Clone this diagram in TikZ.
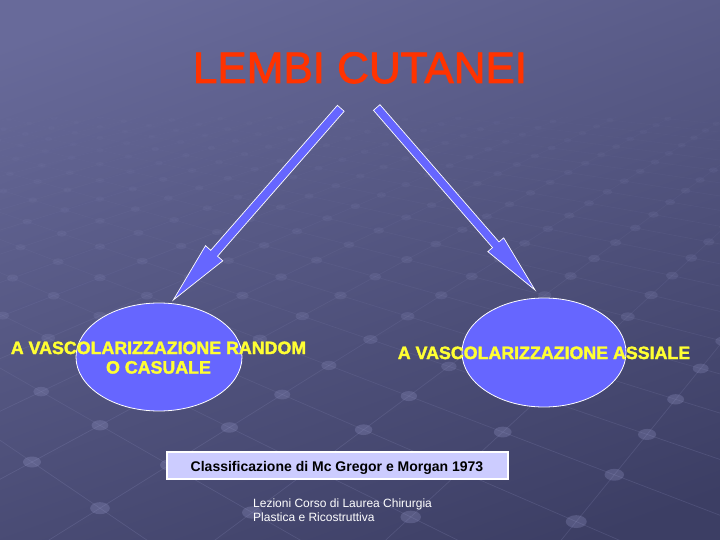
\documentclass[tikz,border=0pt]{standalone}
\usepackage{fontspec}
\setmainfont{Liberation Sans}
\usetikzlibrary{shapes.geometric,calc}
\definecolor{bgtop}{RGB}{104,106,154}
\definecolor{bgbot}{RGB}{60,62,100}
\definecolor{arrowblue}{RGB}{102,102,255}
\definecolor{titlered}{RGB}{255,51,0}
\definecolor{lblyellow}{RGB}{255,255,51}
\definecolor{boxfill}{RGB}{204,204,255}
\definecolor{gridcol}{RGB}{170,172,220}
\definecolor{dotcol}{RGB}{150,152,200}
\newcommand\heavytxt[2]{\special{pdf:literal direct 2 Tr #1 w}#2\special{pdf:literal direct 0 Tr}}
\begin{document}
\begin{tikzpicture}[x=1pt,y=-1pt,
  declare function={gd(\a,\b)=1-0.0875*\a+0.0688*\b;
     gx(\a,\b)=(59.24*\a+74.85*\b+32)/gd(\a,\b);
     gy(\a,\b)=(1.75*\a-7.43*\b+462)/gd(\a,\b);},
  blob/.style={ellipse, draw=white, line width=0.8pt, fill=arrowblue, inner sep=0pt},
  fatarrow/.style={draw=white, line width=0.7pt, fill=arrowblue, line join=miter},
  lbl/.style={text=lblyellow, font=\bfseries\fontsize{17.8}{19.5}\selectfont, align=center, inner sep=0pt},
  gline/.style={gridcol, line width=0.7pt},
]
\useasboundingbox (0,0) rectangle (720,540);
\shade[top color=bgtop, bottom color=bgbot, shading angle=20] (-40,-40) rectangle (760,580);

% perspective floor grid
\begin{scope}
\clip (0,118) rectangle (720,540);
\foreach \i in {-14,...,8}{
  \foreach \j in {-4,...,30}{
    \pgfmathsetmacro{\dA}{gd(\i,\j)}
    \pgfmathsetmacro{\dB}{\dA-0.0875}
    \ifdim \dA pt>0.45pt
      \pgfmathsetmacro{\op}{min(0.16,0.16/(\dA*\dA))}
      \draw[gline, opacity=\op] ({gx(\i,\j)},{gy(\i,\j)}) -- ({gx(\i,\j+1)},{gy(\i,\j+1)});
      \ifdim \dB pt>0.45pt
        \draw[gline, opacity=\op] ({gx(\i,\j)},{gy(\i,\j)}) -- ({gx(\i+1,\j)},{gy(\i+1,\j)});
      \fi
    \fi
  }
}
\foreach \i in {-14,...,8}{
  \foreach \j in {-4,...,30}{
    \pgfmathsetmacro{\dA}{gd(\i,\j)}
    \ifdim \dA pt>0.45pt
      \pgfmathsetmacro{\op}{min(0.28,0.32/(\dA*\dA))}
      \pgfmathsetmacro{\rx}{9/\dA}
      \pgfmathsetmacro{\ry}{5.5/\dA}
      \fill[dotcol, opacity=\op] ({gx(\i,\j)},{gy(\i,\j)}) ellipse [x radius=\rx pt, y radius=\ry pt];
    \fi
  }
}
\end{scope}

% ellipses
\node[blob, minimum width=166pt, minimum height=108pt] (elleft) at (159,357) {};
\node[blob, minimum width=164pt, minimum height=109pt] (elright) at (544,352.5) {};

% arrows
\coordinate (t1) at (340.8,108.3);
\coordinate (p1) at (173.3,300);
\coordinate (h1) at ($(t1)!192.5pt!(p1)$);
\draw[fatarrow] ($(t1)!4.5pt!90:(p1)$) -- ($(h1)!4.5pt!90:(p1)$) -- ($(h1)!11.5pt!90:(p1)$)
  -- (p1) -- ($(h1)!11.5pt!-90:(p1)$) -- ($(h1)!4.5pt!-90:(p1)$) -- ($(t1)!4.5pt!-90:(p1)$) -- cycle;
\coordinate (t2) at (376.7,107.5);
\coordinate (p2) at (535,290);
\coordinate (h2) at ($(t2)!181.7pt!(p2)$);
\draw[fatarrow] ($(t2)!4.3pt!90:(p2)$) -- ($(h2)!4.3pt!90:(p2)$) -- ($(h2)!10.5pt!90:(p2)$)
  -- (p2) -- ($(h2)!10.5pt!-90:(p2)$) -- ($(h2)!4.3pt!-90:(p2)$) -- ($(t2)!4.3pt!-90:(p2)$) -- cycle;

% texts
\node[font=\fontsize{44}{50}\selectfont, text=titlered, anchor=base, inner sep=0pt] (title) at (360,83) {\heavytxt{0.9}{LEMBI CUTANEI}};
\node[lbl, anchor=base] (lblleft) at (158.5,373.5) {\heavytxt{0.35}{A VASCOLARIZZAZIONE RANDOM}\\\heavytxt{0.35}{O CASUALE}};
\node[lbl, anchor=base] (lblright) at (544,359) {\heavytxt{0.35}{A VASCOLARIZZAZIONE ASSIALE}};

\node[draw=white, line width=1.5pt, fill=boxfill, minimum width=341pt, minimum height=27pt, inner sep=0pt] (box) at (337.5,465.5) {};
\node[font=\bfseries\fontsize{14}{16}\selectfont, anchor=base, inner sep=0pt] (boxtext) at (337,471) {Classificazione di Mc Gregor e Morgan 1973};

\node[anchor=base west, align=left, font=\fontsize{12}{14}\selectfont, text=white, inner sep=0pt] (footer) at (253,521) {Lezioni Corso di Laurea Chirurgia\\Plastica e Ricostruttiva};
\end{tikzpicture}
\end{document}
